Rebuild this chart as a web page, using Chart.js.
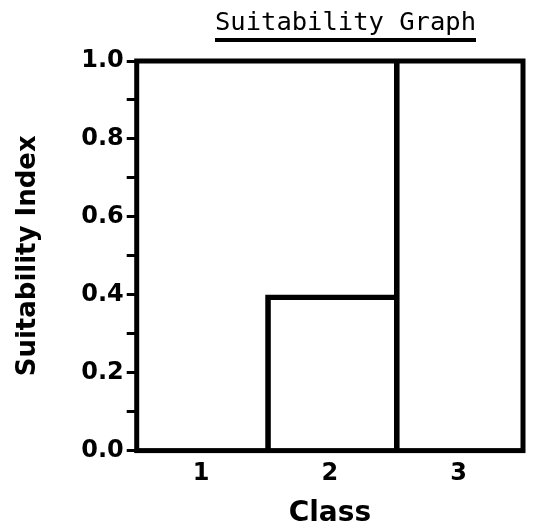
<!DOCTYPE html>
<html>
<head>
<meta charset="utf-8">
<script src="https://cdn.jsdelivr.net/npm/chart.js@4/dist/chart.umd.min.js"></script>
<style>
  html, body { margin: 0; padding: 0; background: #fff; }
  #wrap { position: relative; width: 537px; height: 531px; }
  #title {
    position: absolute; left: 215px; top: 9px;
    font-family: "DejaVu Sans Mono", monospace; font-size: 25.5px; line-height: 25px;
    color: #000; text-decoration: underline; text-decoration-thickness: 4px;
    text-underline-offset: 8px; white-space: nowrap;
  }
  #chart { position: absolute; left: 0; top: 0; }
</style>
</head>
<body>
<div id="wrap">
  <canvas id="chart" width="537" height="531"></canvas>
  <div id="title">Suitability Graph</div>
</div>
<script>
const categories = ['1', '2', '3'];
const suitability = [0.0, 0.4, 1.0];
const yMin = 0.0, yMax = 1.0, yStep = 0.1;
const xTitle = 'Class';
const yTitle = 'Suitability Index';

const LINE = 5;

const framePlugin = {
  id: 'frame',
  afterDatasetsDraw(chart) {
    const { ctx, chartArea: a } = chart;
    ctx.save();
    ctx.strokeStyle = '#000';
    ctx.lineWidth = LINE;
    ctx.lineJoin = 'miter';
    ctx.strokeRect(a.left, a.top, a.right - a.left, a.bottom - a.top);
    ctx.restore();
  }
};

new Chart(document.getElementById('chart'), {
  type: 'bar',
  data: {
    labels: categories,
    datasets: [{
      data: suitability,
      backgroundColor: 'rgba(0,0,0,0)',
      borderColor: '#000',
      // step outline: edges shared with a taller neighbour or with the frame are drawn once
      borderWidth: (c) => {
        const d = c.dataset.data;
        const i = c.dataIndex;
        const last = i === d.length - 1;
        const shared = !last && d[i + 1] >= d[i];
        return {
          left: LINE,
          top: d[i] >= yMax ? 0 : LINE,
          right: (shared || last) ? 0 : LINE,
          bottom: 0
        };
      },
      borderSkipped: 'start',
      categoryPercentage: 1.0,
      barPercentage: 1.0
    }]
  },
  options: {
    responsive: false,
    animation: false,
    layout: { padding: { left: 9, top: 61, right: 14, bottom: 0 } },
    plugins: { legend: { display: false }, tooltip: { enabled: false }, title: { display: false } },
    scales: {
      x: {
        offset: true,
        grid: { display: false, drawTicks: false },
        border: { display: false },
        ticks: { color: '#000', padding: 9, font: { family: 'DejaVu Sans', weight: 'bold', size: 24 } },
        title: { display: true, text: xTitle, color: '#000', padding: { top: 0, bottom: 0 },
                 font: { family: 'DejaVu Sans', weight: 'bold', size: 28 } }
      },
      y: {
        min: yMin, max: yMax,
        grid: { drawOnChartArea: false, drawTicks: true, tickLength: 10, tickWidth: 3, tickColor: '#000' },
        border: { display: false },
        ticks: {
          stepSize: yStep, autoSkip: false, color: '#000', padding: 3,
          font: { family: 'DejaVu Sans', weight: 'bold', size: 24 },
          callback: (v) => (Math.round(v * 10) % 2 === 0 ? Number(v).toFixed(1) : '')
        },
        title: { display: true, text: yTitle, color: '#000', padding: { top: 4, bottom: 34 },
                 font: { family: 'DejaVu Sans', weight: 'bold', size: 26 } }
      }
    }
  },
  plugins: [framePlugin]
});
</script>
</body>
</html>
